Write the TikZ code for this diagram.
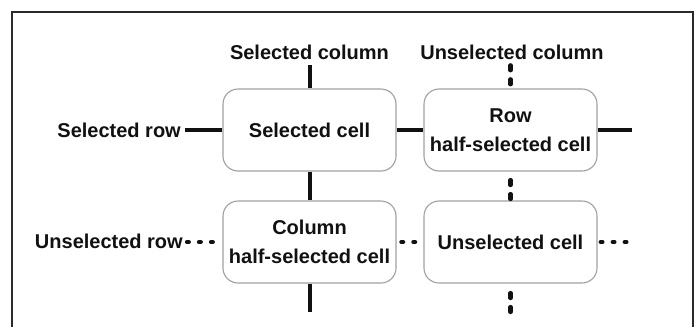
\documentclass[tikz,border=0pt]{standalone}
\usepackage{fontspec}
\setmainfont{Liberation Sans}
\definecolor{framecol}{HTML}{2A2A2A}
\definecolor{boxcol}{HTML}{A0A0A0}
\definecolor{inkcol}{HTML}{111111}
\tikzset{
  cellbox/.style={draw=boxcol, line width=1.1pt, rounded corners=15pt, minimum width=173pt, minimum height=82pt, inner sep=0pt, align=center, font=\fontsize{20}{28.5}\selectfont\bfseries, text=inkcol},
  lbl/.style={inner sep=0pt, font=\fontsize{20}{24}\selectfont\bfseries, text=inkcol},
  solidline/.style={draw=inkcol, line width=4pt},
  doth/.style={draw=inkcol, line width=4.2pt, line cap=round, dash pattern=on 1.8pt off 10.2pt},
  dotv/.style={draw=inkcol, line width=4.2pt, line cap=round, dash pattern=on 5pt off 9pt},
}
\begin{document}
\begin{tikzpicture}[x=1pt,y=-1pt]
\useasboundingbox (0,0) rectangle (699,327);
\fill[white] (0,0) rectangle (699,327);
% frame (open at bottom)
\draw[framecol, line width=2pt] (11.7,327) -- (11.7,11.7) -- (693.3,11.7) -- (693.3,327);

% cells
\node[cellbox] (sc) at (309.5,130) {Selected cell};
\node[cellbox] (rh) at (510.5,130) {Row\\half-selected cell};
\node[cellbox] (ch) at (309.5,242) {Column\\half-selected cell};
\node[cellbox] (uc) at (510.5,242) {Unselected cell};

% labels
\node[lbl, anchor=base] (scol) at (309.5,59) {Selected column};
\node[lbl, anchor=base] (ucol) at (512,59) {Unselected column};
\node[lbl, anchor=base east] (srow) at (181,137) {Selected row};
\node[lbl, anchor=base east] (urow) at (183,248.5) {Unselected row};

% free ends
\coordinate (c1top) at (309.5,65);
\coordinate (c1bot) at (309.5,312);
\coordinate (c2top) at (510.5,65.3);
\coordinate (c2bot) at (510.5,312);
\coordinate (r1left) at (185,130);
\coordinate (r1right) at (632,130);
\coordinate (r2left) at (187,242);
\coordinate (r2right) at (630,242);

% selected column / row (solid)
\draw[solidline] (c1top) -- (sc.north);
\draw[solidline] (sc.south) -- (ch.north);
\draw[solidline] (ch.south) -- (c1bot);
\draw[solidline] (r1left) -- (sc.west);
\draw[solidline] (sc.east) -- (rh.west);
\draw[solidline] (rh.east) -- (r1right);

% unselected column (dotted)
\draw[dotv] (c2top) -- (rh.north);
\draw[dotv, shorten <=8.5pt] (rh.south) -- (uc.north);
\draw[dotv, shorten <=9.5pt] (uc.south) -- (c2bot);

% unselected row (dotted)
\draw[doth] (r2left) -- (ch.west);
\draw[doth, shorten <=4.8pt] (ch.east) -- (uc.west);
\draw[doth, shorten <=3.1pt] (uc.east) -- (r2right);
\end{tikzpicture}
\end{document}
